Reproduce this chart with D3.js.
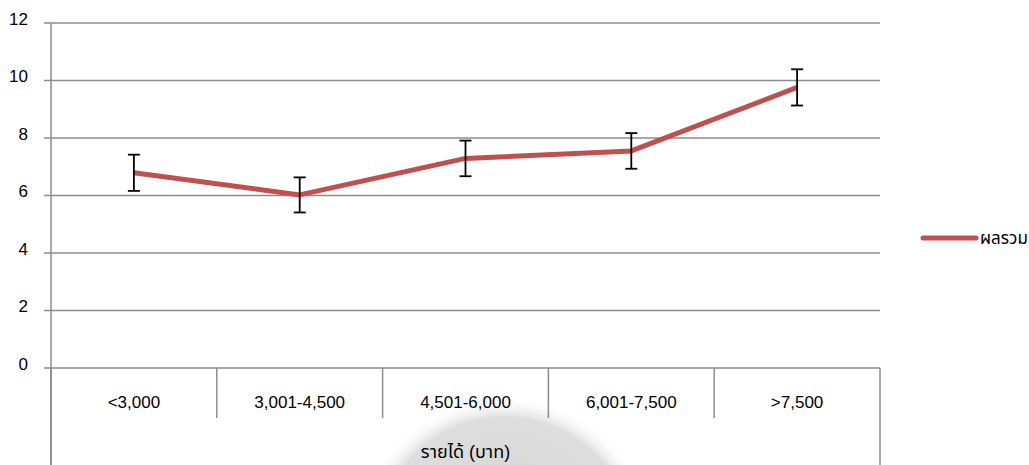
<!DOCTYPE html>
<html>
<head>
<meta charset="utf-8">
<script src="https://cdn.jsdelivr.net/npm/d3@7"></script>
<style>
  body { margin: 0; background: #fff; }
  text { font-family: "Liberation Sans", Arial, "Noto Sans Thai", sans-serif; fill: #000; }
</style>
</head>
<body>
<div id="chart"></div>
<script>
// income groups and mean score with error bars
var categories = ["<3,000", "3,001-4,500", "4,501-6,000", "6,001-7,500", ">7,500"];
var values = [6.79, 6.02, 7.29, 7.55, 9.76];
var errors = [0.63, 0.61, 0.62, 0.62, 0.63];
var yTicks = [0, 2, 4, 6, 8, 10, 12];
var seriesName = "ผลรวม";
var axisTitle = "รายได้ (บาท)";

var W = 1029, H = 465;
var margin = {top: 23, left: 51, right: 149, bottom: 97};
var width = W - margin.left - margin.right,
    height = H - margin.top - margin.bottom;

var svg = d3.select("#chart").append("svg")
  .attr("width", W).attr("height", H);

// faint watermark blob behind the axis title
var defs = svg.append("defs");
var grad = defs.append("radialGradient").attr("id", "wm");
grad.append("stop").attr("offset", "0%").attr("stop-color", "#d2d2d2");
grad.append("stop").attr("offset", "85%").attr("stop-color", "#dedede");
grad.append("stop").attr("offset", "100%").attr("stop-color", "#ffffff").attr("stop-opacity", 0);
svg.append("circle")
  .attr("cx", 505).attr("cy", 545).attr("r", 150)
  .style("fill", "url(#wm)");

var g = svg.append("g")
  .attr("transform", "translate(" + margin.left + "," + margin.top + ")");

var x = d3.scaleBand().domain(categories).range([0, width]);
var y = d3.scaleLinear().domain([0, 12]).range([height, 0]);

// gridlines + y labels
g.selectAll(".grid")
  .data(yTicks)
  .enter().append("line")
    .attr("x1", -7).attr("x2", width)
    .attr("y1", function(d){ return y(d); })
    .attr("y2", function(d){ return y(d); })
    .attr("stroke", "#8c8c8c")
    .attr("stroke-width", 1.5);

g.selectAll(".ylab")
  .data(yTicks)
  .enter().append("text")
    .attr("x", -23)
    .attr("y", function(d){ return y(d); })
    .attr("dy", "0.1em")
    .attr("text-anchor", "end")
    .style("font-size", "17px")
    .text(function(d){ return d; });

// y axis line
g.append("line")
  .attr("x1", 0).attr("x2", 0)
  .attr("y1", 0).attr("y2", H - margin.top)
  .attr("stroke", "#8c8c8c").attr("stroke-width", 1.5);

// category dividers
var edges = categories.map(function(c){ return x(c); }).concat([width]);
g.selectAll(".div")
  .data(edges)
  .enter().append("line")
    .attr("x1", function(d){ return d; })
    .attr("x2", function(d){ return d; })
    .attr("y1", height)
    .attr("y2", function(d, i){ return (i == 0 || i == edges.length - 1) ? H - margin.top : height + 50; })
    .attr("stroke", "#8c8c8c").attr("stroke-width", 1.5);

g.selectAll(".xlab")
  .data(categories)
  .enter().append("text")
    .attr("x", function(d){ return x(d) + x.bandwidth() / 2; })
    .attr("y", height + 40)
    .attr("text-anchor", "middle")
    .style("font-size", "17px")
    .text(function(d){ return d; });

g.append("text")
  .attr("x", width / 2)
  .attr("y", height + 90)
  .attr("text-anchor", "middle")
  .style("font-size", "18px")
  .text(axisTitle);

// line
var line = d3.line()
  .x(function(d, i){ return x(categories[i]) + x.bandwidth() / 2; })
  .y(function(d){ return y(d); });

g.append("path")
  .datum(values)
  .attr("d", line)
  .attr("fill", "none")
  .attr("stroke", "#c0504d")
  .attr("stroke-width", 5)
  .attr("stroke-linejoin", "round");

// error bars
var eb = g.selectAll(".err")
  .data(values)
  .enter().append("g")
    .attr("transform", function(d, i){ return "translate(" + (x(categories[i]) + x.bandwidth() / 2) + ",0)"; });
eb.append("line")
  .attr("y1", function(d, i){ return y(d + errors[i]); })
  .attr("y2", function(d, i){ return y(d - errors[i]); })
  .attr("stroke", "#000").attr("stroke-width", 1.8);
eb.append("line")
  .attr("x1", -6).attr("x2", 6)
  .attr("y1", function(d, i){ return y(d + errors[i]); })
  .attr("y2", function(d, i){ return y(d + errors[i]); })
  .attr("stroke", "#000").attr("stroke-width", 1.8);
eb.append("line")
  .attr("x1", -6).attr("x2", 6)
  .attr("y1", function(d, i){ return y(d - errors[i]); })
  .attr("y2", function(d, i){ return y(d - errors[i]); })
  .attr("stroke", "#000").attr("stroke-width", 1.8);

// legend
var leg = svg.append("g").attr("transform", "translate(923,238)");
leg.append("line")
  .attr("x1", 0).attr("x2", 53)
  .attr("stroke", "#c0504d").attr("stroke-width", 5)
  .attr("stroke-linecap", "round");
leg.append("text")
  .attr("x", 57).attr("y", 0).attr("dy", "0.35em")
  .style("font-size", "17px")
  .text(seriesName);
</script>
</body>
</html>
